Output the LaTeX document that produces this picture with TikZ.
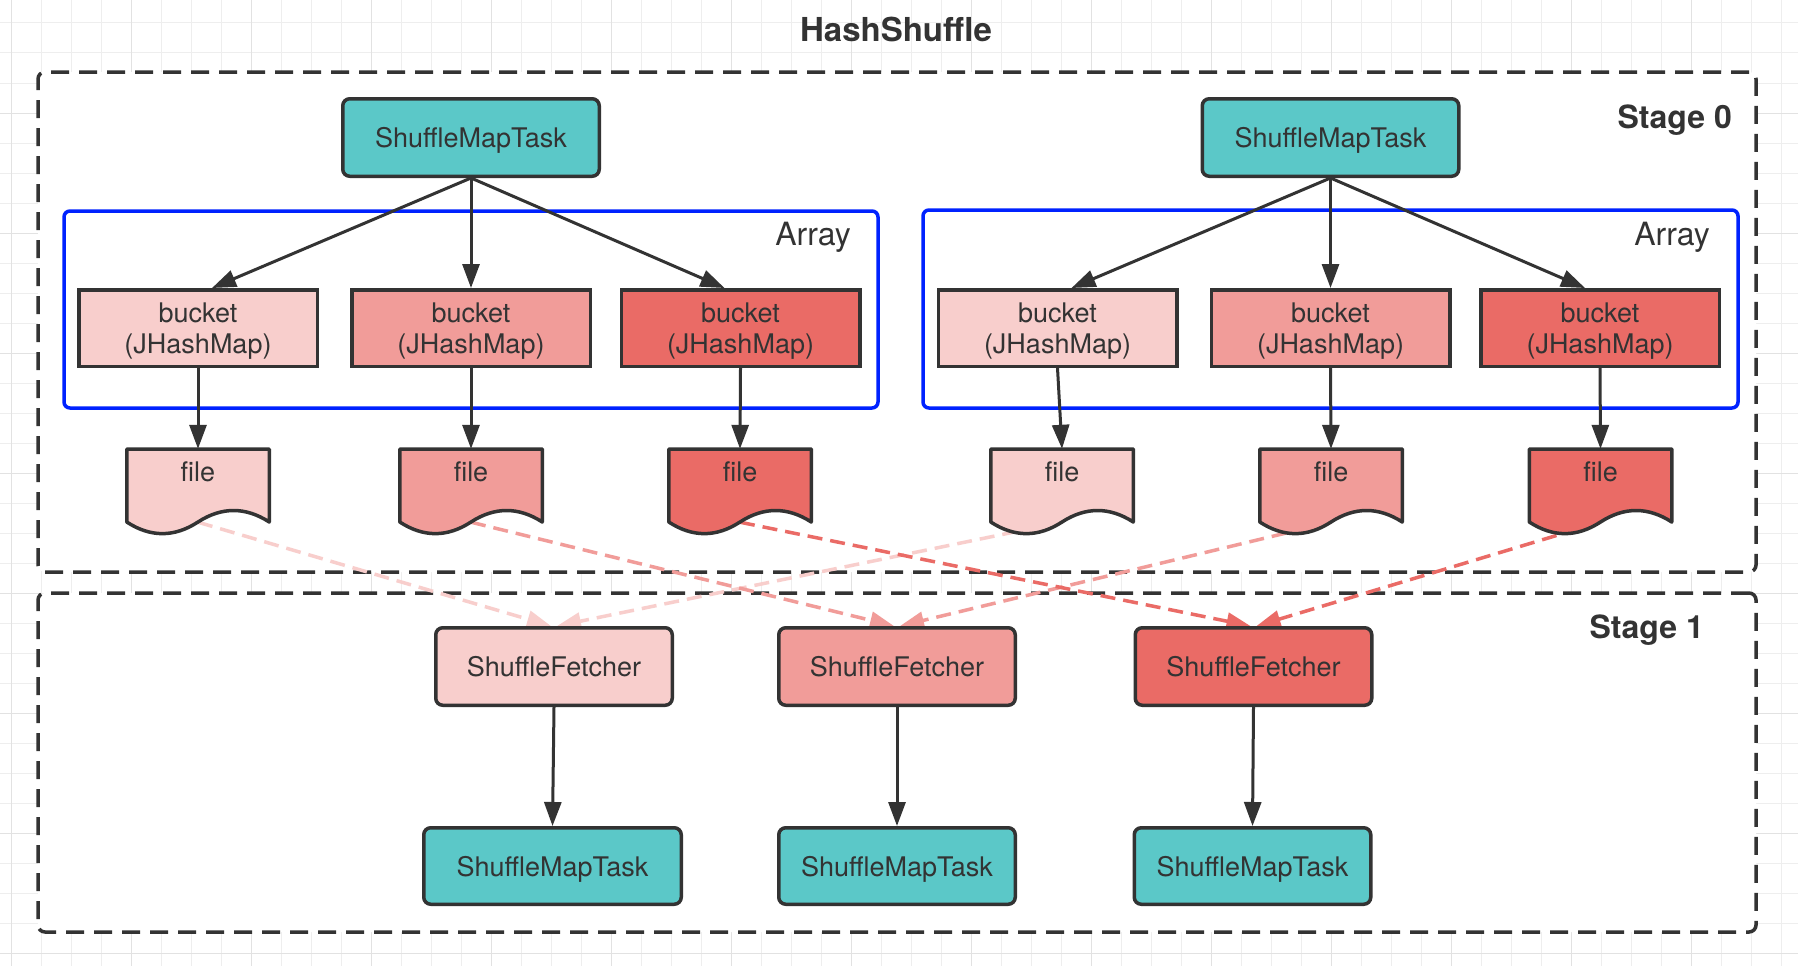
\documentclass[tikz,border=0pt]{standalone}
\usepackage{fontspec}
\setmainfont{TeX Gyre Heros}
\usetikzlibrary{arrows.meta}
\definecolor{ink}{HTML}{333333}
\definecolor{tealbox}{HTML}{5BC8C8}
\definecolor{redA}{HTML}{F8CECC}
\definecolor{redB}{HTML}{F19C99}
\definecolor{redC}{HTML}{EA6B66}
\definecolor{arrblue}{HTML}{0022FF}
\definecolor{gridmin}{HTML}{EEEEEE}
\definecolor{gridmaj}{HTML}{E2E2E2}
\pgfdeclarelayer{back}
\pgfdeclarelayer{edges}
\pgfsetlayers{back,edges,main}
\tikzset{
  boxtext/.style={font=\fontsize{27}{31}\selectfont, text=ink, align=center, text depth=0pt, inner sep=0pt},
  taskbox/.style={boxtext, draw=ink, line width=3.5pt, fill=tealbox, rounded corners=7pt, minimum width=256.5pt, minimum height=77.5pt},
  bucketbox/.style={boxtext, draw=ink, line width=3.5pt, minimum width=238.5pt, minimum height=76.5pt},
  fetchbox/.style={boxtext, draw=ink, line width=3.5pt, rounded corners=7pt, minimum width=236.5pt, minimum height=77.5pt},
  filearea/.style={draw=none, inner sep=0pt, minimum width=142.5pt, minimum height=73pt},
  filetext/.style={font=\fontsize{27}{31}\selectfont, text=ink, inner sep=0pt, anchor=base},
  stagebox/.style={draw=ink, fill=white, line width=3.5pt, dash pattern=on 18pt off 10pt, rounded corners=7pt, inner sep=0pt},
  arraybox/.style={draw=arrblue, line width=3.5pt, rounded corners=6pt, inner sep=0pt},
  stagelabel/.style={font=\bfseries\fontsize{32}{35}\selectfont, text=ink, inner sep=0pt, anchor=base east},
  arraylabel/.style={font=\fontsize{32}{35}\selectfont, text=ink, inner sep=0pt, anchor=base east},
  solidarrow/.style={draw=ink, line width=3pt, -{Triangle[length=24pt,width=17pt]}},
  dasharrow/.style={line width=3.5pt, dash pattern=on 15pt off 8pt, -{Triangle[length=24pt,width=17pt]}},
  gridminor/.style={draw=gridmin, line width=1pt},
  gridmajor/.style={draw=gridmaj, line width=1pt},
}
\newcommand\docfile[3]{%
  \begin{scope}[shift={(#2,449)}]
    \filldraw[fill=#3, draw=ink, line width=3.5pt, line join=round]
      (-71.25,0) -- (71.25,0) -- (71.25,73)
      .. controls (47.5,57.67) and (23.75,57.67) .. (0,73)
      .. controls (-23.75,88.5) and (-47.5,88.5) .. (-71.25,73) -- cycle;
  \end{scope}
  \node[filearea] (#1) at (#2,485.5) {};
  \node[filetext] (#1t) at (#2,481) {file};
}
\begin{document}
\begin{tikzpicture}[x=1pt,y=-1pt]
\useasboundingbox (0,0) rectangle (1798,966);

\begin{pgfonlayer}{back}
  \fill[white] (0,0) rectangle (1798,966);
  \foreach \gx in {11,41,...,1791} \draw[gridminor] (\gx,0) -- (\gx,966);
  \foreach \gy in {23,53,...,953} \draw[gridminor] (0,\gy) -- (1798,\gy);
  \foreach \gx in {11,131,...,1791} \draw[gridmajor] (\gx,0) -- (\gx,966);
  \foreach \gy in {113,233,...,953} \draw[gridmajor] (0,\gy) -- (1798,\gy);
  \node[stagebox, minimum width=1718pt, minimum height=500pt] (stage0) at (897,322) {};
  \node[stagebox, minimum width=1718pt, minimum height=339pt] (stage1) at (897,762.5) {};
  \node[arraybox, minimum width=814pt, minimum height=197pt] (arr1) at (471,309.5) {};
  \node[arraybox, minimum width=815pt, minimum height=198pt] (arr2) at (1330.5,309) {};
\end{pgfonlayer}

% labels
\node[font=\bfseries\fontsize{33}{36}\selectfont, text=ink, inner sep=0pt, anchor=base] (title) at (896,42) {HashShuffle};
\node[stagelabel] (st0) at (1732,128) {Stage 0};
\node[stagelabel] (st1) at (1704,638) {Stage 1};
\node[arraylabel] (arrl1) at (851,245) {Array};
\node[arraylabel] (arrl2) at (1710,245) {Array};

% stage 0
\node[taskbox] (smt1) at (471,137.5) {ShuffleMapTask};
\node[taskbox] (smt2) at (1330.5,137.5) {ShuffleMapTask};

\node[bucketbox, fill=redA] (b1) at (198,328) {bucket\\(JHashMap)};
\node[bucketbox, fill=redB] (b2) at (471,328) {bucket\\(JHashMap)};
\node[bucketbox, fill=redC] (b3) at (740.5,328) {bucket\\(JHashMap)};
\node[bucketbox, fill=redA] (b4) at (1057.5,328) {bucket\\(JHashMap)};
\node[bucketbox, fill=redB] (b5) at (1330.5,328) {bucket\\(JHashMap)};
\node[bucketbox, fill=redC] (b6) at (1600,328) {bucket\\(JHashMap)};

\docfile{f1}{198}{redA}
\docfile{f2}{471}{redB}
\docfile{f3}{740}{redC}
\docfile{f4}{1062}{redA}
\docfile{f5}{1331}{redB}
\docfile{f6}{1600.5}{redC}

% stage 1
\node[fetchbox, fill=redA] (sf1) at (554,666.5) {ShuffleFetcher};
\node[fetchbox, fill=redB] (sf2) at (897,666.5) {ShuffleFetcher};
\node[fetchbox, fill=redC] (sf3) at (1253.5,666.5) {ShuffleFetcher};

\node[taskbox, minimum width=257.5pt, minimum height=76.5pt] (t1) at (552.5,866) {ShuffleMapTask};
\node[taskbox, minimum width=236.5pt, minimum height=76.5pt] (t2) at (897,866) {ShuffleMapTask};
\node[taskbox, minimum width=236.5pt, minimum height=76.5pt] (t3) at (1252.5,866) {ShuffleMapTask};

\begin{pgfonlayer}{edges}
  \draw[solidarrow] (smt1.south) -- ([xshift=14pt]b1.north);
  \draw[solidarrow] (smt1.south) -- (b2.north);
  \draw[solidarrow] (smt1.south) -- ([xshift=-16pt]b3.north);
  \draw[solidarrow] (smt2.south) -- ([xshift=14pt]b4.north);
  \draw[solidarrow] (smt2.south) -- (b5.north);
  \draw[solidarrow] (smt2.south) -- ([xshift=-15pt]b6.north);

  \draw[solidarrow] (b1.south) -- (f1.north);
  \draw[solidarrow] (b2.south) -- (f2.north);
  \draw[solidarrow] (b3.south) -- (f3.north);
  \draw[solidarrow] (b4.south) -- (f4.north);
  \draw[solidarrow] (b5.south) -- (f5.north);
  \draw[solidarrow] (b6.south) -- (f6.north);

  \draw[dasharrow, draw=redA] (f1.south) -- ([xshift=-3pt]sf1.north);
  \draw[dasharrow, draw=redA] (f4.south) -- ([xshift=3pt]sf1.north);
  \draw[dasharrow, draw=redB] (f2.south) -- ([xshift=-3pt]sf2.north);
  \draw[dasharrow, draw=redB] (f5.south) -- ([xshift=3pt]sf2.north);
  \draw[dasharrow, draw=redC] (f3.south) -- ([xshift=-3pt]sf3.north);
  \draw[dasharrow, draw=redC] (f6.south) -- ([xshift=3pt]sf3.north);

  \draw[solidarrow] (sf1.south) -- (t1.north);
  \draw[solidarrow] (sf2.south) -- (t2.north);
  \draw[solidarrow] (sf3.south) -- (t3.north);
\end{pgfonlayer}
\end{tikzpicture}
\end{document}
